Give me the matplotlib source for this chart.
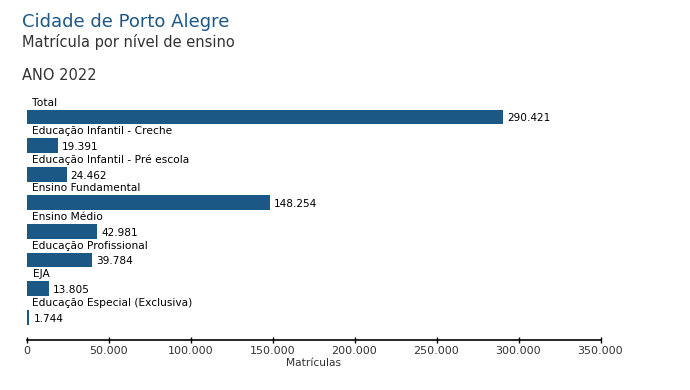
import matplotlib
matplotlib.use('Agg')
import matplotlib.pyplot as plt
from matplotlib.ticker import FuncFormatter

categorias = ['Total', 'Educação Infantil - Creche', 'Educação Infantil - Pré escola',
              'Ensino Fundamental', 'Ensino Médio', 'Educação Profissional', 'EJA',
              'Educação Especial (Exclusiva)']
matriculas = [290421, 19391, 24462, 148254, 42981, 39784, 13805, 1744]
ticks = [0, 50000, 100000, 150000, 200000, 250000, 300000, 350000]

azul = '#1b5886'
cinza = '#333333'


def fmt(v, pos=None):
    return '{:,.0f}'.format(v).replace(',', '.')


plt.rcParams['font.family'] = ['DejaVu Sans']
fig = plt.figure(figsize=(6.9, 3.9), dpi=100)
ax = fig.add_axes([26.5 / 690, 1 - 340 / 390, (600.5 - 26.5) / 690, (340 - 97) / 390])

pos = list(range(len(categorias)))
ax.barh(pos, matriculas, height=0.52, color=azul)
for i, (c, v) in enumerate(zip(categorias, matriculas)):
    ax.annotate(c, (0, i - 0.5), xytext=(6, 0), textcoords='offset pixels',
                va='center', ha='left', fontsize=7.7, color='black')
    ax.annotate(fmt(v), (v, i + 0.05), xytext=(4, 0), textcoords='offset pixels',
                va='center', ha='left', fontsize=7.6, color='black')

ax.set_xlim(0, 350000)
ax.set_ylim(7.8, -0.7)
ax.set_xticks(ticks)
ax.xaxis.set_major_formatter(FuncFormatter(fmt))
ax.set_yticks([])
for s in ['top', 'right', 'left']:
    ax.spines[s].set_visible(False)
ax.spines['bottom'].set_linewidth(1.2)
ax.tick_params(axis='x', direction='inout', length=5, width=1, labelsize=8,
               labelcolor=cinza, pad=2)
ax.set_xlabel('Matrículas', fontsize=7.7, color=cinza, labelpad=1)

fig.text(22 / 690, 1 - 27 / 390, 'Cidade de Porto Alegre', fontsize=13, color=azul,
         ha='left', va='baseline')
fig.text(22 / 690, 1 - 47 / 390, 'Matrícula por nível de ensino', fontsize=10.5, color=cinza,
         ha='left', va='baseline')
fig.text(22 / 690, 1 - 80 / 390, 'ANO 2022', fontsize=10.5, color=cinza,
         ha='left', va='baseline')

fig.savefig('out.png', dpi=100)
